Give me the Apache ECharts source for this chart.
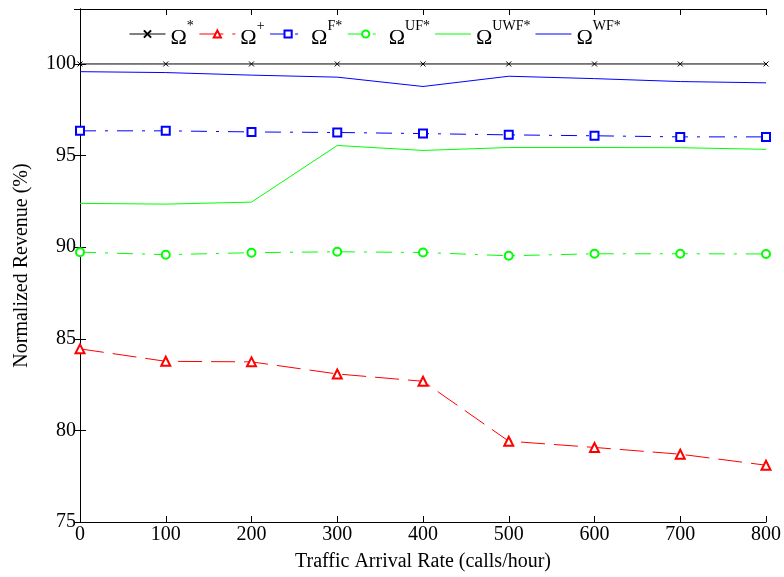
<!DOCTYPE html>
<html>
<head>
<meta charset="utf-8">
<script src="https://cdn.jsdelivr.net/npm/echarts@6/dist/echarts.min.js"></script>
<style>
  html, body { margin: 0; padding: 0; background: #fff; }
  #chart { width: 784px; height: 577px; }
</style>
</head>
<body>
<div id="chart"></div>
<script>
// traffic arrival rate (calls/hour)
var rates = [0, 100, 200, 300, 400, 500, 600, 700, 800];

// normalized revenue (%)
var omegaStar = [100, 100, 100, 100, 100, 100, 100, 100, 100];
var omegaPlus = [84.45, 83.77, 83.74, 83.08, 82.68, 79.41, 79.07, 78.70, 78.10];
var omegaF    = [96.35, 96.35, 96.29, 96.26, 96.20, 96.13, 96.08, 96.02, 96.02];
var omegaUF   = [89.73, 89.59, 89.70, 89.75, 89.71, 89.53, 89.64, 89.64, 89.63];
var omegaUWF  = [92.39, 92.35, 92.46, 95.55, 95.28, 95.44, 95.44, 95.43, 95.34];
var omegaWF   = [99.58, 99.53, 99.39, 99.28, 98.77, 99.33, 99.20, 99.04, 98.97];

var names = ['Ω*', 'Ω+', 'ΩF*', 'ΩUF*', 'ΩUWF*', 'ΩWF*'];
var sups  = ['*', '+', 'F*', 'UF*', 'UWF*', 'WF*'];

function pairs(vals) {
  return rates.map(function (x, i) { return [x, vals[i]]; });
}

var font = '"Liberation Serif", "Times New Roman", serif';
var crossPath = 'path://M0,0L10,10M10,0L0,10';
var plainLine = 'path://M0,0L35,0L35,1L0,1Z';

var chart = echarts.init(document.getElementById('chart'));

function mkSeries(name, vals, color, symbol, size, lineType) {
  return {
    name: name,
    type: 'line',
    data: pairs(vals),
    symbol: symbol,
    symbolSize: size,
    showSymbol: symbol !== 'none',
    animation: false,
    lineStyle: { color: color, width: 1, type: lineType },
    itemStyle: { color: color, borderColor: color, borderWidth: 1 },
    emphasis: { disabled: true }
  };
}

var series = [
  mkSeries(names[0], omegaStar, '#000000', crossPath, 5, 'solid'),
  mkSeries(names[1], omegaPlus, '#ff0000', 'emptyTriangle', 9, [24, 9]),
  mkSeries(names[2], omegaF, '#0000ff', 'emptyRect', 8, [16, 9, 3, 9]),
  mkSeries(names[3], omegaUF, '#00ff00', 'emptyCircle', 8, [16, 9, 3, 9]),
  mkSeries(names[4], omegaUWF, '#00ff00', 'none', 0, 'solid'),
  mkSeries(names[5], omegaWF, '#0000ff', 'none', 0, 'solid')
];
// cross marker is stroke only
series[0].itemStyle = { color: 'none', borderColor: '#000', borderWidth: 1 };

var legendData = names.map(function (n, i) {
  if (i >= 4) return { name: n, icon: plainLine, itemStyle: { borderWidth: 0 } };
  return { name: n };
});

var option = {
  backgroundColor: '#fff',
  animation: false,
  grid: { left: 80, right: 17, top: 9, bottom: 53 },
  legend: {
    data: legendData,
    left: 124,
    top: 14,
    itemWidth: 36,
    itemHeight: 9,
    itemGap: 5,
    lineStyle: { width: 1 },
    formatter: function (n) {
      var i = names.indexOf(n);
      return '{o|Ω}{s|' + sups[i] + '}';
    },
    textStyle: {
      fontFamily: font,
      color: '#000',
      rich: {
        o: { fontFamily: font, fontSize: 22, color: '#000', verticalAlign: 'bottom', lineHeight: 30 },
        s: { fontFamily: font, fontSize: 14, color: '#000', verticalAlign: 'top', lineHeight: 30, padding: [0, 0, 12, 0] }
      }
    }
  },
  xAxis: [{
    type: 'value',
    min: 0, max: 800, interval: 100,
    name: 'Traffic Arrival Rate (calls/hour)',
    nameLocation: 'middle',
    nameGap: 30,
    nameTextStyle: { fontFamily: font, fontSize: 20, color: '#000' },
    axisLine: { lineStyle: { color: '#000', width: 1 } },
    axisTick: { inside: true, length: 6, lineStyle: { color: '#000' } },
    axisLabel: { fontFamily: font, fontSize: 20, color: '#000', margin: 3 },
    splitLine: { show: false }
  }, {
    type: 'value', position: 'top',
    min: 0, max: 800, interval: 100,
    axisLine: { lineStyle: { color: '#000', width: 1 } },
    axisTick: { inside: true, length: 6, lineStyle: { color: '#000' } },
    axisLabel: { show: false },
    splitLine: { show: false }
  }],
  yAxis: [{
    type: 'value',
    min: 75, max: 103, interval: 5,
    name: 'Normalized Revenue (%)',
    nameLocation: 'middle',
    nameGap: 48,
    nameTextStyle: { fontFamily: font, fontSize: 20, color: '#000' },
    axisLine: { show: true, lineStyle: { color: '#000', width: 1 } },
    axisTick: { inside: true, length: 6, lineStyle: { color: '#000' } },
    axisLabel: {
      fontFamily: font, fontSize: 20, color: '#000', margin: 4,
      formatter: function (v) { return v % 5 === 0 ? v : ''; }
    },
    splitLine: { show: false }
  }, {
    type: 'value', position: 'right',
    min: 75, max: 103, interval: 5,
    axisLine: { show: true, lineStyle: { color: '#000', width: 1 } },
    axisTick: { inside: true, length: 6, lineStyle: { color: '#000' } },
    axisLabel: { show: false },
    splitLine: { show: false }
  }],
  series: series
};

chart.setOption(option);
</script>
</body>
</html>
